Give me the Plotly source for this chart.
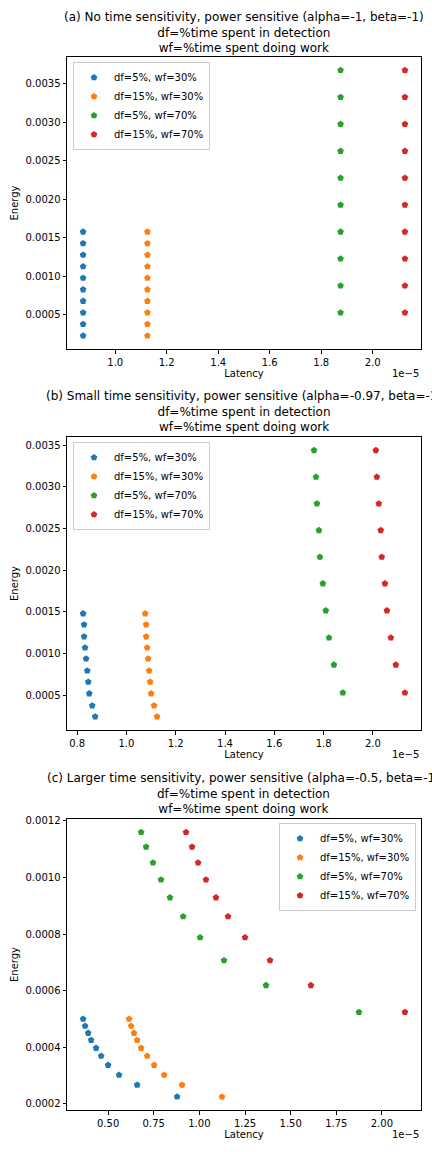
import plotly.graph_objects as go

# latency values are in units of 1e-5 (matplotlib offset text "1e-5")
series_names = ["df=5%, wf=30%", "df=15%, wf=30%", "df=5%, wf=70%", "df=15%, wf=70%"]
colors = ["#1f77b4", "#ff7f0e", "#2ca02c", "#d62728"]

# (a) No time sensitivity
a_energy_wf30 = [0.000225, 0.000375, 0.000525, 0.000675, 0.000825, 0.000975, 0.001125, 0.001275, 0.001425, 0.001575]
a_energy_wf70 = [0.000525, 0.000875, 0.001225, 0.001575, 0.001925, 0.002275, 0.002625, 0.002975, 0.003325, 0.003675]
a_lat_df5_wf30 = [0.875, 0.875, 0.875, 0.875, 0.875, 0.875, 0.875, 0.875, 0.875, 0.875]
a_lat_df15_wf30 = [1.125, 1.125, 1.125, 1.125, 1.125, 1.125, 1.125, 1.125, 1.125, 1.125]
a_lat_df5_wf70 = [1.875, 1.875, 1.875, 1.875, 1.875, 1.875, 1.875, 1.875, 1.875, 1.875]
a_lat_df15_wf70 = [2.125, 2.125, 2.125, 2.125, 2.125, 2.125, 2.125, 2.125, 2.125, 2.125]

# (b) Small time sensitivity
b_energy_wf30 = [0.000243, 0.000375, 0.00052, 0.00066, 0.000794, 0.000938, 0.00107, 0.001203, 0.001347, 0.00148]
b_energy_wf70 = [0.00053, 0.000865, 0.00119, 0.001516, 0.00184, 0.00216, 0.00248, 0.0028, 0.00312, 0.00344]
b_lat_df5_wf30 = [0.873, 0.861, 0.849, 0.845, 0.841, 0.836, 0.832, 0.828, 0.828, 0.824]
b_lat_df15_wf30 = [1.124, 1.112, 1.100, 1.096, 1.092, 1.088, 1.084, 1.080, 1.080, 1.076]
b_lat_df5_wf70 = [1.878, 1.842, 1.822, 1.809, 1.797, 1.785, 1.781, 1.773, 1.769, 1.761]
b_lat_df15_wf70 = [2.130, 2.093, 2.073, 2.057, 2.049, 2.036, 2.032, 2.024, 2.016, 2.012]

# (c) Larger time sensitivity
c_energy_wf30 = [0.000225, 0.000267, 0.000302, 0.000337, 0.000369, 0.000397, 0.000425, 0.00045, 0.000475, 0.0005]
c_energy_wf70 = [0.000524, 0.000619, 0.000707, 0.000788, 0.000862, 0.000929, 0.000992, 0.001052, 0.001108, 0.00116]
c_lat_df5_wf30 = [0.878, 0.659, 0.560, 0.500, 0.462, 0.434, 0.407, 0.391, 0.374, 0.363]
c_lat_df15_wf30 = [1.124, 0.905, 0.807, 0.752, 0.714, 0.681, 0.659, 0.642, 0.626, 0.615]
c_lat_df5_wf70 = [1.874, 1.365, 1.135, 1.004, 0.911, 0.839, 0.790, 0.746, 0.708, 0.681]
c_lat_df15_wf70 = [2.126, 1.611, 1.387, 1.250, 1.157, 1.091, 1.036, 0.993, 0.960, 0.927]

titles = [
    "(a) No time sensitivity, power sensitive (alpha=-1, beta=-1)",
    "(b) Small time sensitivity, power sensitive (alpha=-0.97, beta=-1)",
    "(c) Larger time sensitivity, power sensitive (alpha=-0.5, beta=-1)",
]
subtitle = "df=%time spent in detection<br>wf=%time spent doing work"

panels = [
    ([a_lat_df5_wf30, a_lat_df15_wf30, a_lat_df5_wf70, a_lat_df15_wf70],
     [a_energy_wf30, a_energy_wf30, a_energy_wf70, a_energy_wf70]),
    ([b_lat_df5_wf30, b_lat_df15_wf30, b_lat_df5_wf70, b_lat_df15_wf70],
     [b_energy_wf30, b_energy_wf30, b_energy_wf70, b_energy_wf70]),
    ([c_lat_df5_wf30, c_lat_df15_wf30, c_lat_df5_wf70, c_lat_df15_wf70],
     [c_energy_wf30, c_energy_wf30, c_energy_wf70, c_energy_wf70]),
]

W, H = 432, 1152
# pixel boxes of the three axes (top, bottom)
boxes = [(57, 349), (437, 730), (819, 1110)]
ax_left, ax_right = 67, 421
title_mid = [32, 412, 793]
x_dticks = [0.2, 0.2, 0.25]
x_formats = [".1f", ".1f", ".2f"]
y_dticks = [0.0005, 0.0005, 0.0002]
legend_pos = [
    dict(x=73 / W, y=1 - 62 / H, xanchor="left", yanchor="top"),
    dict(x=73 / W, y=1 - 442 / H, xanchor="left", yanchor="top"),
    dict(x=416 / W, y=1 - 823 / H, xanchor="right", yanchor="top"),
]


def padded(vals):
    lo, hi = min(vals), max(vals)
    m = (hi - lo) * 0.05
    return [lo - m, hi + m]


fig = go.Figure()
layout = dict(
    width=W, height=H,
    margin=dict(l=0, r=0, t=0, b=0),
    paper_bgcolor="white", plot_bgcolor="white",
    font=dict(family="DejaVu Sans", size=10, color="black"),
    annotations=[],
)

for p, (xs, ys) in enumerate(panels):
    n = "" if p == 0 else str(p + 1)
    leg = "legend" + n
    for i in range(4):
        fig.add_trace(go.Scatter(
            x=xs[i], y=ys[i], mode="markers", name=series_names[i],
            marker=dict(symbol="pentagon", size=7, color=colors[i], line=dict(width=0)),
            xaxis="x" + n, yaxis="y" + n, legend=leg,
        ))
    top, bot = boxes[p]
    all_x = [v for s in xs for v in s]
    all_y = [v for s in ys for v in s]
    axis_common = dict(
        showline=True, mirror=True, linecolor="black", linewidth=1,
        ticks="outside", ticklen=3.5, tickcolor="black", showgrid=False,
        zeroline=False, automargin=False, tickfont=dict(size=10),
    )
    layout["xaxis" + n] = dict(
        axis_common, domain=[ax_left / W, ax_right / W], anchor="y" + n,
        range=padded(all_x), dtick=x_dticks[p], tick0=0, tickformat=x_formats[p],
        title=dict(text="Latency", standoff=2, font=dict(size=10)),
    )
    layout["yaxis" + n] = dict(
        axis_common, domain=[1 - bot / H, 1 - top / H], anchor="x" + n,
        range=padded(all_y), dtick=y_dticks[p], tick0=0, tickformat=".4f",
        title=dict(text="Energy", standoff=5, font=dict(size=10)),
    )
    layout[leg] = dict(
        legend_pos[p], bgcolor="rgba(255,255,255,0.8)", bordercolor="#cccccc",
        borderwidth=1, font=dict(size=10),
    )
    layout["annotations"].append(dict(
        text=titles[p] + "<br>" + subtitle, xref="paper", yref="paper",
        x=(ax_left + ax_right) / 2 / W, y=1 - title_mid[p] / H,
        xanchor="center", yanchor="middle", showarrow=False,
        font=dict(size=12),
    ))
    layout["annotations"].append(dict(
        text="1e\u22125", xref="paper", yref="paper",
        x=ax_right / W, y=1 - (bot + 24) / H, xanchor="right", yanchor="middle",
        showarrow=False, font=dict(size=10),
    ))

fig.update_layout(**layout)
# drop the browser's default 8px body margin so the figure sits at the page corner
fig.write_html(
    "out.html",
    config={"displayModeBar": False},
    post_script="document.body.style.margin='0';",
)
